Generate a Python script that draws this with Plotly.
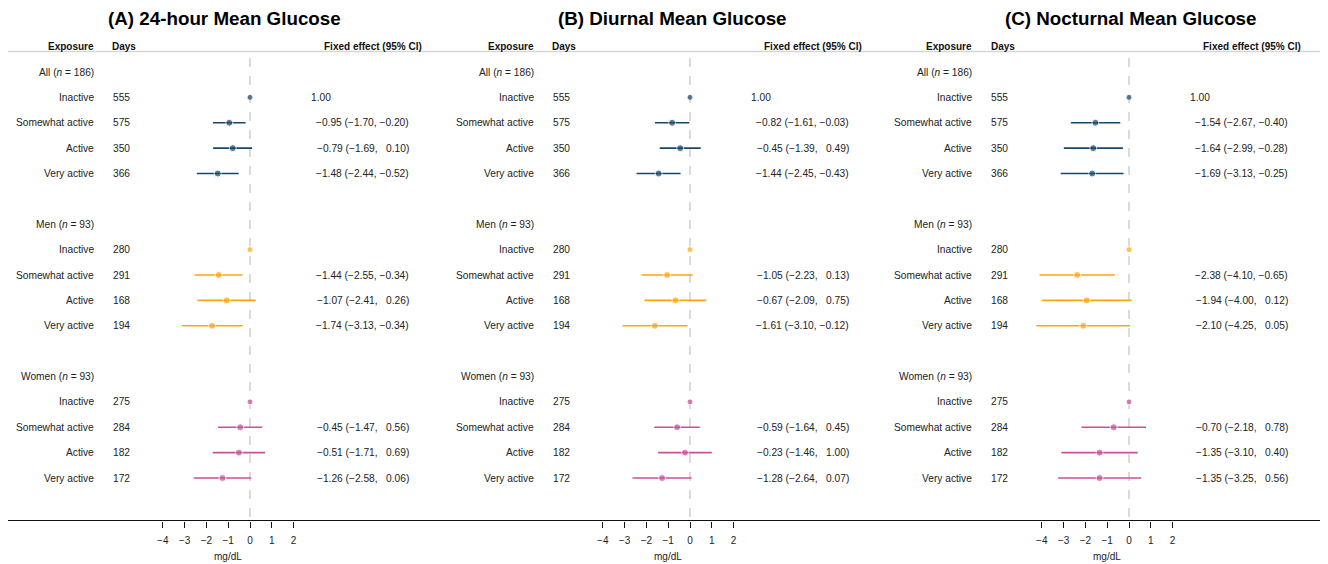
import plotly.graph_objects as go

# ---------------- data ----------------
panel_titles = ["(A) 24-hour Mean Glucose", "(B) Diurnal Mean Glucose", "(C) Nocturnal Mean Glucose"]
section_labels = ["All (<i>n</i> = 186)", "Men (<i>n</i> = 93)", "Women (<i>n</i> = 93)"]
exposures = ["Inactive", "Somewhat active", "Active", "Very active"]
days = [[555, 575, 350, 366], [280, 291, 168, 194], [275, 284, 182, 172]]

# estimates per panel -> section -> exposure (Inactive is reference = 0)
est_A = [[0, -0.95, -0.79, -1.48], [0, -1.44, -1.07, -1.74], [0, -0.45, -0.51, -1.26]]
lo_A = [[0, -1.70, -1.69, -2.44], [0, -2.55, -2.41, -3.13], [0, -1.47, -1.71, -2.58]]
hi_A = [[0, -0.20, 0.10, -0.52], [0, -0.34, 0.26, -0.34], [0, 0.56, 0.69, 0.06]]

est_B = [[0, -0.82, -0.45, -1.44], [0, -1.05, -0.67, -1.61], [0, -0.59, -0.23, -1.28]]
lo_B = [[0, -1.61, -1.39, -2.45], [0, -2.23, -2.09, -3.10], [0, -1.64, -1.46, -2.64]]
hi_B = [[0, -0.03, 0.49, -0.43], [0, 0.13, 0.75, -0.12], [0, 0.45, 1.00, 0.07]]

est_C = [[0, -1.54, -1.64, -1.69], [0, -2.38, -1.94, -2.10], [0, -0.70, -1.35, -1.35]]
lo_C = [[0, -2.67, -2.99, -3.13], [0, -4.10, -4.00, -4.25], [0, -2.18, -3.10, -3.25]]
hi_C = [[0, -0.40, -0.28, -0.25], [0, -0.65, 0.12, 0.05], [0, 0.78, 0.40, 0.56]]

tick_vals = [-4, -3, -2, -1, 0, 1, 2]
tick_text = ["\u22124", "\u22123", "\u22122", "\u22121", "0", "1", "2"]

panels = [(est_A, lo_A, hi_A), (est_B, lo_B, hi_B), (est_C, lo_C, hi_C)]
colors = ["#174867", "#ffa514", "#c8509b"]

# ---------------- layout helpers (pixels) ----------------
SH = 8                      # page body margin compensation
W, H = 1328 - SH, 564 - SH
BOTTOM_REF = 521
Y0, DY = 72.0, 25.375
PXU = 21.8                  # pixels per mg/dL
ZERO = 250.0                # zero position within panel
PW = 440.0
offsets = [0.0, 440.0, 879.0]
title_centers = [224.5, 672.0, 1131.0]
bottom_fig = BOTTOM_REF - SH

def row_of(py):
    return (py - Y0) / DY

def xu(px):
    return (px - ZERO) / PXU

def fmt(v):
    s = f"{abs(v):.2f}"
    return ("\u2212" + s) if v < 0 else ("\u2007" + s)

FONT = "Liberation Sans, Arial, sans-serif"
fs = 10.2

fig = go.Figure()
annotations = []
shapes = []

def ann(xa, x, y, text, anchor, size=fs, color="#222", yref="y"):
    annotations.append(dict(x=x, y=y, xref=xa, yref=yref, text=text, xanchor=anchor,
                            yanchor="middle", showarrow=False,
                            font=dict(size=size, color=color), borderpad=0))

for p, (est, lo, hi) in enumerate(panels):
    xa = "x" if p == 0 else f"x{p+1}"
    for s in range(3):
        base = s * 6
        rows = [base + 1 + i for i in range(4)]
        fig.add_trace(go.Scatter(
            x=est[s], y=rows, mode="markers",
            marker=dict(color=colors[s], size=[6, 7, 7, 7]),
            error_x=dict(type="data", symmetric=False,
                         array=[h - e for h, e in zip(hi[s], est[s])],
                         arrayminus=[e - l for e, l in zip(est[s], lo[s])],
                         color=colors[s], thickness=1.6, width=0),
            xaxis=xa, yaxis="y", showlegend=False, hoverinfo="skip"))
        ann(xa, xu(94.5), base, section_labels[s], "right")
        for i in range(4):
            r = rows[i]
            ann(xa, xu(94.5), r, exposures[i], "right")
            ann(xa, xu(111.5), r, str(days[s][i]), "left")
            if i == 0:
                if s == 0:
                    ann(xa, xu(309.5), r, "1.00", "left")
            else:
                txt = f"{fmt(est[s][i])} ({fmt(lo[s][i])}, {fmt(hi[s][i])})"
                txt = txt.replace("(\u2007", "(").replace(", \u2007", ",\u00a0\u2007")
                ann(xa, xu(409.5), r, txt, "right")
    # headers
    ann(xa, xu(94.5), row_of(46), "<b>Exposure</b>", "right", 10, "#111")
    ann(xa, xu(111), row_of(46), "<b>Days</b>", "left", 10, "#111")
    ann(xa, xu(423), row_of(46), "<b>Fixed effect (95% CI)</b>", "right", 10, "#111")
    # title
    ann(xa, xu(title_centers[p] - offsets[p]), row_of(18), f"<b>{panel_titles[p]}</b>", "center", 18.8, "#000")
    # unit label under ticks (paper y, below plot area)
    ann(xa, -1, (bottom_fig - (556 - SH)) / bottom_fig, "mg/dL", "center", 10, "#222", yref="paper")
    # zero reference dashed line
    shapes.append(dict(type="line", xref=xa, yref="y", x0=0, x1=0, y0=row_of(58), y1=row_of(BOTTOM_REF),
                       line=dict(color="#c4c4c4", width=1.2, dash="dash"), layer="below"))

# header separator and bottom rule (full width)
shapes.append(dict(type="line", xref="paper", yref="y", x0=0, x1=1, y0=row_of(51.5), y1=row_of(51.5),
                   line=dict(color="#d6d6d6", width=1.5)))
shapes.append(dict(type="line", xref="paper", yref="y", x0=0, x1=(1327 - SH) / W,
                   y0=row_of(BOTTOM_REF), y1=row_of(BOTTOM_REF),
                   line=dict(color="#111", width=2)))

layout = dict(
    width=W, height=H, margin=dict(l=0, r=0, t=0, b=H - bottom_fig),
    paper_bgcolor="white", plot_bgcolor="white",
    font=dict(family=FONT, size=fs, color="#222"),
    annotations=annotations, shapes=shapes,
    yaxis=dict(range=[row_of(BOTTOM_REF), row_of(SH)], visible=False, domain=[0, 1]),
)
for p in range(3):
    key = "xaxis" if p == 0 else f"xaxis{p+1}"
    zero_fig = offsets[p] + ZERO - SH
    d0 = max(0.0, offsets[p] - SH)
    d1 = min(W, offsets[p] - SH + PW)
    layout[key] = dict(
        domain=[d0 / W, d1 / W],
        range=[(d0 - zero_fig) / PXU, (d1 - zero_fig) / PXU],
        anchor="y",
        tickvals=tick_vals, ticktext=tick_text,
        ticks="outside", ticklen=6, tickwidth=1, tickcolor="#111",
        showgrid=False, zeroline=False, showline=False,
        tickfont=dict(size=10, color="#222", family=FONT),
        ticklabelstandoff=4,
        fixedrange=True,
    )
fig.update_layout(**layout)
fig.write_html("out.html")
